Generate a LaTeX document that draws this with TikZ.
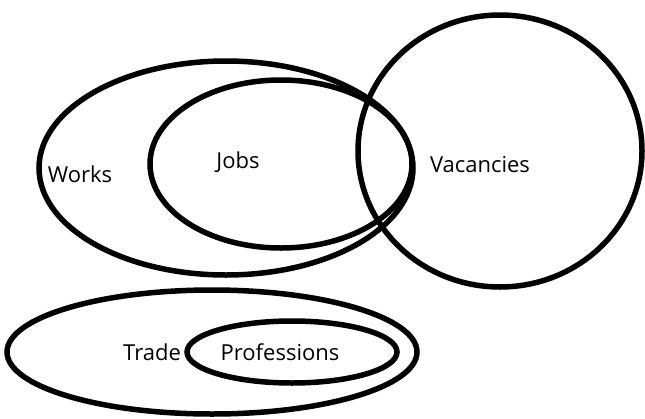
\documentclass[tikz,border=0pt]{standalone}
\usepackage{fontspec}
\setmainfont{Open Sans}
\tikzset{
	set/.style={line width=5.5pt,black},
	lbl/.style={font=\fontsize{22}{26}\selectfont,inner sep=0pt}
}
\begin{document}
\begin{tikzpicture}[x=1pt,y=-1pt]
		\useasboundingbox (0,0) rectangle (645,418);
		
		\draw[set](226,168) ellipse [x radius=187, y radius=107];
		\draw[set](281,164) ellipse [x radius=131, y radius=84];
		\draw[set](500,151) ellipse [x radius=142, y radius=136];
		
		\draw[set](212,352) ellipse [x radius=205, y radius=62];
		\draw[set](292,352) ellipse [x radius=105, y radius=31];
		
		\node[lbl] (works) at (80,174){Works};
		\node[lbl] (jobs) at (238,162){Jobs};
		\node[lbl] (vacancies) at (480,165){Vacancies};
		\node[lbl] (trade) at (152,352){Trade};
		\node[lbl] (professions) at (280,352){Professions};
		\end{tikzpicture}
\end{document}
